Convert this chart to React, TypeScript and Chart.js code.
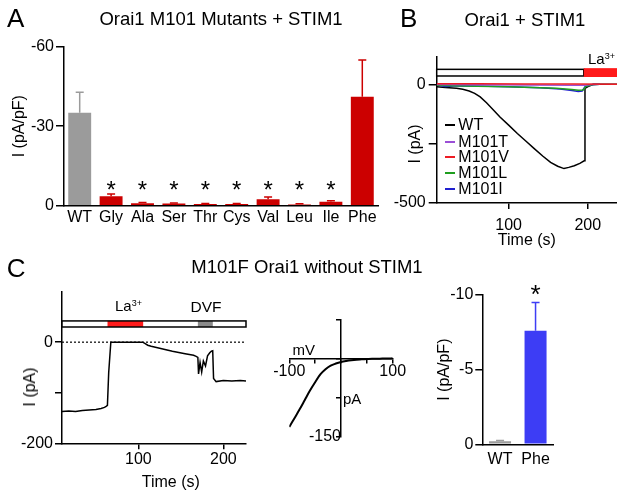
import React, { useEffect, useRef } from "react";
import { Chart, registerables } from "chart.js";

Chart.register(...registerables);

const FONT = "'Liberation Sans', Arial, Helvetica, sans-serif";
Chart.defaults.font.family = FONT;
Chart.defaults.font.size = 16;
Chart.defaults.color = "#000";

// ---------------- Panel A data ----------------
const catsA = ["WT", "Gly", "Ala", "Ser", "Thr", "Cys", "Val", "Leu", "Ile", "Phe"];
const meanA = [-35.1, -3.6, -0.9, -0.8, -0.6, -0.6, -2.4, -0.5, -1.5, -41.1];
const errA = [-42.8, -4.4, -1.2, -1.0, -0.8, -0.8, -3.3, -0.7, -1.9, -55.0];
const sigA = [false, true, true, true, true, true, true, true, true, false];
const yTicksA = [-60, -30, 0];

// ---------------- Panel B data ----------------
const tWT_B = [9, 20, 34, 42, 50, 57, 64, 72, 81, 89, 100, 111, 122, 132, 143, 153, 162, 170, 176, 183, 190, 195.5, 196.5, 202, 207, 237];
const iWT_B = [-10, -13, -17, -21, -28, -38, -53, -78, -109, -138, -172, -207, -240, -270, -302, -329, -345, -355, -350, -343, -333, -322, -17, -7, 0, 0];
const tT_B = [9, 60, 120, 180, 196, 205, 215];
const iT_B = [-1, -2, -3, -4, -4, -1, 0];
const tV_B = [9, 60, 120, 180, 237];
const iV_B = [2, 2, 1, 1, 0];
const tL_B = [9, 30, 60, 100, 130, 160, 180, 188, 194, 198, 205, 215];
const iL_B = [-4, -6, -8, -10, -13, -17, -22, -25, -24, -8, -2, 0];
const tI_B = [9, 20, 35, 60, 100, 140, 165, 180, 188, 193, 197, 205, 215];
const iI_B = [-3, -9, -6, -7, -10, -15, -20, -26, -30, -28, -8, -2, 0];
const legendB = ["WT", "M101T", "M101V", "M101L", "M101I"];
const yTicksB = [-500, -250, 0];
const laB = [195, 237]; // La3+ application (s)
const bathB = [9, 195];

// ---------------- Panel C data ----------------
const tC = [10, 18, 26, 34, 42, 50, 56, 60, 62, 63.5, 65, 67.5, 80, 95, 105, 108, 111, 115, 125, 140, 155, 165, 168, 170, 170.8, 172.6, 174.5, 176.5, 179, 181.4, 184, 186, 187.5, 188.5, 191.5, 200, 210, 220, 226.7];
const iC = [-137, -136, -137, -135, -134, -133, -131, -129, -127, -125, -60, 0, 0, 0, 0, -3, -6, -8, -12, -18, -23, -26, -28, -30, -63, -40, -59, -37, -47, -27, -21, -18, -17, -72, -78, -76, -77, -76, -77];
const yTicksC = [-200, -100, 0];
const zeroC = [10, 226.7];
const bathC = [10, 226.7];
const laC = [63.6, 105.6];
const dvfC = [170, 187.6];

const vIV = [-100, -90, -80, -70, -60, -50, -40, -30, -20, -10, 0, 10, 20, 30, 40, 50, 60, 70, 80, 90, 100];
const iIV = [-132, -115, -98, -80, -62, -46, -31, -21, -14, -10, -7, -5, -3.5, -2.5, -2, -1.5, -1, -1, -0.5, -0.5, 0];

const catsCb = ["WT", "Phe"];
const meanCb = [-0.2, -7.6];
const errCb = [-0.25, -9.5];
const sigCb = [false, true];

// ---------------- styles ----------------
const GRAY = "#9b9b9b";
const RED = "#cc0000";
const BLUE = "#3d3df5";
const LA_RED = "#ff1a1a";
const colorsB = ["#000000", "#9b4fd6", "#ee1c24", "#1f9e1f", "#2020d0"];

const zip = (xs: number[], ys: number[]) => xs.map((x, i) => ({ x, y: ys[i] }));

const border = { display: true, color: "#000", width: 1.5 };
const gridTicks = (len: number) => ({
  display: true,
  drawOnChartArea: false,
  drawTicks: true,
  tickLength: len,
  color: "#000",
  lineWidth: 1.5,
});
const noGrid = { display: false, drawTicks: false };

const onlyTicks = (vals: number[]) => (s: any) => {
  s.ticks = vals.map((v) => ({ value: v }));
};

function errorBars(errors: number[], colors: string[], sig: boolean[], starLevel: number, starSize: number) {
  return {
    id: "errorBars",
    afterDatasetsDraw(chart: any) {
      const { ctx } = chart;
      const meta = chart.getDatasetMeta(0);
      const ys = chart.scales.y;
      ctx.save();
      errors.forEach((e, i) => {
        const bar = meta.data[i];
        const x = bar.x;
        const y0 = bar.y;
        const y1 = ys.getPixelForValue(e);
        ctx.strokeStyle = colors[i];
        ctx.lineWidth = 1.5;
        ctx.beginPath();
        ctx.moveTo(x, y0);
        ctx.lineTo(x, y1);
        ctx.moveTo(x - 4, y1);
        ctx.lineTo(x + 4, y1);
        ctx.stroke();
      });
      ctx.fillStyle = "#000";
      ctx.font = `${starSize}px ${FONT}`;
      ctx.textAlign = "center";
      ctx.textBaseline = "alphabetic";
      sig.forEach((s, i) => {
        if (!s) return;
        const x = meta.data[i].x;
        const y = ys.getPixelForValue(starLevel) + starSize * 0.575;
        ctx.fillText("*", x, y);
      });
      ctx.restore();
    },
  };
}

type Seg = { from: number; to: number; color: string; lo: number; hi: number };
function timingBar(outline: number[], lo: number, hi: number, segs: Seg[]) {
  return {
    id: "timingBar",
    afterDatasetsDraw(chart: any) {
      const { ctx } = chart;
      const xs = chart.scales.x;
      const ys = chart.scales.y;
      const x0 = xs.getPixelForValue(outline[0]);
      const x1 = xs.getPixelForValue(outline[1]);
      const yT = ys.getPixelForValue(hi);
      const yB = ys.getPixelForValue(lo);
      const fill = (s: Seg) => {
        const a = xs.getPixelForValue(s.from);
        const b = xs.getPixelForValue(s.to);
        const t = ys.getPixelForValue(s.hi);
        const bt = ys.getPixelForValue(s.lo);
        ctx.fillStyle = s.color;
        ctx.fillRect(a, t, b - a, bt - t);
      };
      ctx.save();
      ctx.fillStyle = "#fff";
      ctx.fillRect(x0, yT, x1 - x0, yB - yT);
      segs.forEach(fill);
      ctx.strokeStyle = "#000";
      ctx.lineWidth = 1.5;
      ctx.strokeRect(x0, yT, x1 - x0, yB - yT);
      segs.filter((s) => s.lo < lo || s.hi > hi).forEach(fill);
      ctx.restore();
    },
  };
}

const basePlugins = { legend: { display: false }, tooltip: { enabled: false } };

function makeA(): any {
  return {
    type: "bar",
    data: {
      labels: catsA,
      datasets: [
        {
          data: meanA,
          backgroundColor: catsA.map((_, i) => (i === 0 ? GRAY : RED)),
          borderWidth: 0,
          barPercentage: 0.73,
          categoryPercentage: 1,
        },
      ],
    },
    options: {
      responsive: false,
      animation: false,
      layout: { padding: { left: 0, top: 16.7, right: 12, bottom: 0 } },
      plugins: basePlugins,
      scales: {
        x: {
          grid: noGrid,
          border,
          ticks: { padding: 2.5, maxRotation: 0, autoSkip: false, font: { size: 16 } },
          afterFit: (s: any) => { s.height = 34.3; },
        },
        y: {
          reverse: true,
          min: yTicksA[0],
          max: yTicksA[yTicksA.length - 1],
          grid: gridTicks(8),
          border,
          ticks: { padding: 2, font: { size: 16 } },
          afterBuildTicks: onlyTicks(yTicksA),
          title: { display: true, text: "I (pA/pF)", font: { size: 16 }, padding: { top: 10.4, bottom: 0 } },
          afterFit: (s: any) => { s.width = 64; },
        },
      },
    },
    plugins: [errorBars(errA, catsA.map((_, i) => (i === 0 ? GRAY : RED)), sigA, -8.2, 24)],
  };
}

function makeB(): any {
  const ds = [
    { data: zip(tV_B, iV_B), borderColor: colorsB[2] },
    { data: zip(tT_B, iT_B), borderColor: colorsB[1] },
    { data: zip(tL_B, iL_B), borderColor: colorsB[3] },
    { data: zip(tI_B, iI_B), borderColor: colorsB[4] },
    { data: zip(tWT_B, iWT_B), borderColor: colorsB[0] },
  ].map((d) => ({ ...d, borderWidth: 1.5, pointRadius: 0, fill: false, tension: 0 }));
  return {
    type: "line",
    data: { datasets: ds },
    options: {
      responsive: false,
      animation: false,
      layout: { padding: { left: 0, top: 17, right: 0, bottom: 0 } },
      plugins: basePlugins,
      scales: {
        x: {
          type: "linear",
          min: bathB[0],
          max: laB[1],
          grid: gridTicks(6),
          border,
          ticks: { padding: 7, maxRotation: 0 },
          afterBuildTicks: onlyTicks([100, 200]),
          title: { display: true, text: "Time (s)", font: { size: 16 }, padding: { top: 0, bottom: 0 } },
          afterFit: (s: any) => { s.height = 47; },
        },
        y: {
          type: "linear",
          min: -500,
          max: 115,
          grid: gridTicks(8),
          border,
          ticks: {
            padding: 3,
            callback: (v: number) => (v === -250 ? "" : String(v)),
          },
          afterBuildTicks: onlyTicks(yTicksB),
          afterFit: (s: any) => { s.width = 46.7; },
        },
      },
    },
    plugins: [
      timingBar(bathB, 35, 63, [{ from: laB[0], to: laB[1], color: LA_RED, lo: 31, hi: 67 }]),
    ],
  };
}

function makeC(): any {
  return {
    type: "line",
    data: {
      datasets: [
        {
          data: zip(tC, iC),
          borderColor: "#000",
          borderWidth: 1.5,
          pointRadius: 0,
          tension: 0,
        },
        {
          data: zip(zeroC, [0, 0]),
          borderColor: "#000",
          borderWidth: 1.2,
          borderDash: [2, 2],
          pointRadius: 0,
        },
      ],
    },
    options: {
      responsive: false,
      animation: false,
      layout: { padding: { left: 0, top: 6.7, right: 4, bottom: 0 } },
      plugins: basePlugins,
      scales: {
        x: {
          type: "linear",
          min: bathC[0],
          max: bathC[1],
          grid: gridTicks(6),
          border,
          ticks: { padding: 1, maxRotation: 0 },
          afterBuildTicks: onlyTicks([100, 200]),
          afterFit: (s: any) => { s.height = 49.7; },
        },
        y: {
          type: "linear",
          min: -200,
          max: 100,
          grid: gridTicks(7),
          border,
          ticks: {
            padding: 2,
            callback: (v: number) => (v === -100 ? "" : String(v)),
          },
          afterBuildTicks: onlyTicks(yTicksC),
          afterFit: (s: any) => { s.width = 62; },
        },
      },
    },
    plugins: [
      timingBar(bathC, 30, 42, [
        { from: laC[0], to: laC[1], color: LA_RED, lo: 30, hi: 42 },
        { from: dvfC[0], to: dvfC[1], color: "#8a8a8a", lo: 30, hi: 42 },
      ]),
    ],
  };
}

function makeIV(): any {
  return {
    type: "line",
    data: {
      datasets: [
        {
          data: zip(vIV, iIV),
          borderColor: "#000",
          borderWidth: 2,
          pointRadius: 0,
          tension: 0.35,
        },
      ],
    },
    options: {
      responsive: false,
      animation: false,
      layout: { padding: { left: 39.3, top: 19.3, right: 27.3, bottom: 12.3 } },
      plugins: basePlugins,
      scales: {
        x: {
          type: "linear",
          position: { y: 0 },
          min: -100,
          max: 100,
          grid: gridTicks(4),
          border,
          ticks: {
            padding: 0,
            maxRotation: 0,
            autoSkip: false,
            callback: (v: number) => (v === -100 || v === 100 ? String(v) : ""),
          },
          afterBuildTicks: onlyTicks([-100, -50, 0, 50, 100]),
        },
        y: {
          type: "linear",
          position: { x: 0 },
          min: -150,
          max: 75,
          grid: gridTicks(4),
          border,
          ticks: {
            padding: 4,
            autoSkip: false,
            callback: (v: number) => (v === -150 ? String(v) : ""),
          },
          afterBuildTicks: onlyTicks([-150, -75, 0, 75]),
        },
      },
    },
  };
}

function makeCb(): any {
  return {
    type: "bar",
    data: {
      labels: catsCb,
      datasets: [
        {
          data: meanCb,
          backgroundColor: [GRAY, BLUE],
          borderWidth: 0,
          barPercentage: 0.62,
          categoryPercentage: 1,
        },
      ],
    },
    options: {
      responsive: false,
      animation: false,
      layout: { padding: { left: 0, top: 25, right: 21.7, bottom: 0 } },
      plugins: basePlugins,
      scales: {
        x: {
          grid: noGrid,
          border,
          ticks: { padding: 6, maxRotation: 0, autoSkip: false },
          afterFit: (s: any) => { s.height = 35.7; },
        },
        y: {
          reverse: true,
          min: -10,
          max: 0,
          grid: gridTicks(7),
          border,
          ticks: { padding: 2 },
          afterBuildTicks: onlyTicks([-10, -5, 0]),
          title: { display: true, text: "I (pA/pF)", font: { size: 16 }, padding: { top: 10.4, bottom: 0 } },
          afterFit: (s: any) => { s.width = 57.3; },
        },
      },
    },
    plugins: [errorBars(errCb, [GRAY, BLUE], sigCb, -10.45, 26)],
  };
}

function ChartBox({ left, top, width, height, make }: { left: number; top: number; width: number; height: number; make: () => any }) {
  const ref = useRef<HTMLCanvasElement>(null);
  useEffect(() => {
    const chart = new Chart(ref.current as HTMLCanvasElement, make());
    return () => chart.destroy();
  }, []);
  return (
    <canvas
      ref={ref}
      width={width}
      height={height}
      style={{ position: "absolute", left, top, width, height }}
    />
  );
}

function T({ x, y, size, children, center }: { x: number; y: number; size: number; children: any; center?: boolean }) {
  return (
    <div
      style={{
        position: "absolute",
        left: x,
        top: y - 0.8465 * size,
        fontSize: size,
        lineHeight: `${size}px`,
        fontFamily: FONT,
        whiteSpace: "nowrap",
        color: "#000",
        transform: center ? "translateX(-50%)" : undefined,
      }}
    >
      {children}
    </div>
  );
}

function RT({ cx, cy, size, children }: { cx: number; cy: number; size: number; children: any }) {
  return (
    <div
      style={{
        position: "absolute",
        left: cx,
        top: cy,
        fontSize: size,
        lineHeight: `${size}px`,
        fontFamily: FONT,
        whiteSpace: "nowrap",
        color: "#000",
        transform: "translate(-50%,-50%) rotate(-90deg)",
      }}
    >
      {children}
    </div>
  );
}

const Sup = ({ children }: { children: any }) => (
  <span style={{ fontSize: 9, position: "relative", top: -5 }}>{children}</span>
);

export default function App() {
  const legendY = [125, 141.7, 157.3, 173.3, 189.3];
  return (
    <div style={{ position: "absolute", left: 0, top: 0, width: 617, height: 493, background: "#fff", overflow: "hidden" }}>
      <ChartBox left={0} top={30} width={390} height={210} make={makeA} />
      <ChartBox left={390} top={40} width={227} height={210} make={makeB} />
      <ChartBox left={0} top={280} width={250} height={213} make={makeC} />
      <ChartBox left={250} top={300} width={170} height={150} make={makeIV} />
      <ChartBox left={425} top={270} width={150} height={210} make={makeCb} />

      <T x={7} y={27.3} size={26}>A</T>
      <T x={221} y={26} size={18.5} center>Orai1 M101 Mutants + STIM1</T>

      <T x={400} y={26.7} size={26}>B</T>
      <T x={525} y={26.5} size={18.5} center>Orai1 + STIM1</T>
      <RT cx={415} cy={144} size={16}>I (pA)</RT>
      <T x={588} y={64} size={15}>La<Sup>3+</Sup></T>
      {legendB.map((name, i) => (
        <React.Fragment key={name}>
          <div style={{ position: "absolute", left: 445, top: legendY[i] - 1, width: 10, height: 2, background: colorsB[i] }} />
          <T x={458.3} y={legendY[i] + 5.7} size={16}>{name}</T>
        </React.Fragment>
      ))}

      <T x={6.7} y={276.7} size={26}>C</T>
      <T x={307} y={273.3} size={18.5} center>M101F Orai1 without STIM1</T>
      <T x={115} y={311} size={15}>La<Sup>3+</Sup></T>
      <T x={206} y={311.7} size={15.5} center>DVF</T>
      <RT cx={30} cy={386.7} size={16}>I (pA)</RT>
      <T x={170.8} y={487.5} size={16} center>Time (s)</T>
      <T x={303.8} y={355} size={15} center>mV</T>
      <T x={343} y={403.5} size={15}>pA</T>
    </div>
  );
}
